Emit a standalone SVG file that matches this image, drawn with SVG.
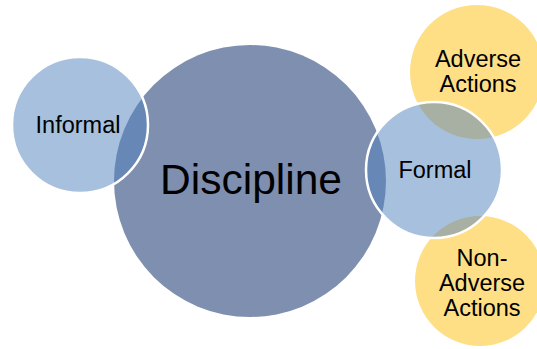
<svg xmlns="http://www.w3.org/2000/svg" width="537" height="349" viewBox="0 0 537 349">
  <style>
    .core { fill: #7F8FAF; }
    .branch { fill: #4F81BD; fill-opacity: 0.5; stroke: #FFFFFF; stroke-width: 2.5; }
    .leaf { fill: #FEDF86; }
    text { font-family: "Liberation Sans", Arial, sans-serif; fill: #000000; text-anchor: middle; }
    .lbl { font-size: 23.5px; }
    .big { font-size: 42.5px; }
  </style>
  <rect width="537" height="349" fill="#FFFFFF"/>

  <!-- outcome circles sit underneath the "Formal" circle -->
  <g id="adverse-actions">
    <circle class="leaf" cx="477" cy="72" r="67"/>
  </g>
  <g id="non-adverse-actions">
    <circle class="leaf" cx="480" cy="281" r="65"/>
  </g>

  <g id="discipline">
    <circle class="core" cx="250" cy="181" r="136"/>
  </g>

  <g id="informal">
    <circle class="branch" cx="80" cy="125" r="68"/>
  </g>
  <g id="formal">
    <circle class="branch" cx="434" cy="170" r="68"/>
  </g>

  <!-- labels drawn last so they stay above the overlaps -->
  <g id="labels">
    <text class="lbl" x="78" y="133">Informal</text>
    <text class="big" x="251" y="194">Discipline</text>
    <text class="lbl" x="435" y="178">Formal</text>
    <text class="lbl" x="478" y="67">Adverse</text>
    <text class="lbl" x="478" y="92">Actions</text>
    <text class="lbl" x="482" y="266">Non-</text>
    <text class="lbl" x="482" y="291">Adverse</text>
    <text class="lbl" x="482" y="316">Actions</text>
  </g>

  <g id="connectors"></g>
</svg>
